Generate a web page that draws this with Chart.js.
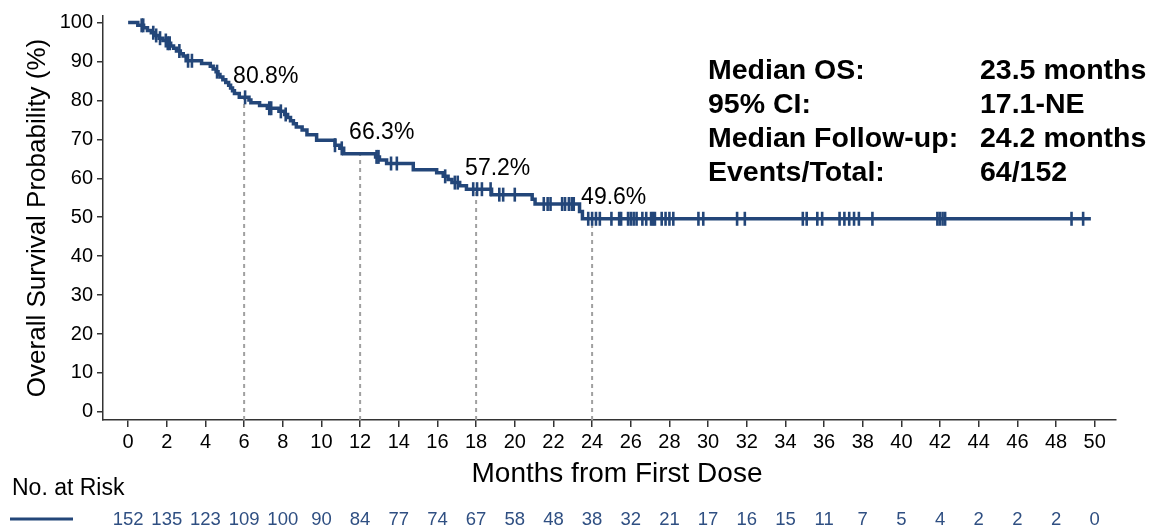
<!DOCTYPE html>
<html>
<head>
<meta charset="utf-8">
<title>Overall Survival</title>
<script src="https://cdn.jsdelivr.net/npm/chart.js@4/dist/chart.umd.min.js"></script>
<style>
  html, body { margin: 0; padding: 0; background: #fff; }
  #wrap { position: relative; width: 1153px; height: 529px; }
</style>
</head>
<body>
<div id="wrap"><canvas id="osChart" width="1153" height="529"></canvas></div>
<script>
// Kaplan-Meier steps: month of event and survival (%) after it
const stepMonths = [0, 0.5, 0.8, 1.0, 1.2, 1.4, 1.6, 1.8, 2.0, 2.2, 2.35, 2.5, 2.7, 2.85, 3.0,
  3.8, 4.25, 4.4, 4.55, 4.65, 4.75, 4.9, 5.05, 5.2, 5.3, 5.4, 5.5, 5.75,
  6.25, 6.35, 6.8, 7.2, 7.8, 8.1, 8.25, 8.4, 8.55, 8.7, 9.0, 9.25, 9.75, 10.7, 10.95, 11.15,
  12.8, 13.0, 13.37, 14.75, 15.96, 16.3, 16.55, 16.75, 17.15, 17.5,
  18.8, 20.9, 21.05, 23.35, 23.5, 49.8];
const stepSurvival = [100, 99.3, 98.7, 98.0, 97.4, 96.7, 96.0, 95.4, 94.7, 94.0, 93.4, 92.7, 92.0, 91.4, 90.2,
  89.5, 88.8, 88.1, 87.4, 86.7, 86.0, 85.3, 84.6, 83.9, 83.2, 82.5, 81.8, 80.8,
  80.1, 79.4, 78.7, 78.0, 77.2, 76.4, 75.6, 74.8, 74.0, 73.2, 72.4, 71.2, 69.8, 68.5, 67.7, 66.3,
  65.5, 64.7, 63.8, 62.2, 61.4, 60.5, 59.7, 58.9, 58.1, 57.2,
  55.8, 54.6, 53.4, 51.5, 49.6, 49.6];

// censored patients (months)
const censorMonths = [0.7, 0.78, 1.3, 1.45, 1.65, 1.95, 2.05, 2.15, 2.65, 3.1, 3.3, 4.6, 6.05,
  7.3, 7.4, 7.9, 8.15, 10.7, 11.05, 12.85, 12.95, 13.6, 13.9, 16.4, 16.9, 17.05, 17.85, 18.05,
  18.3, 18.75, 19.2, 19.4, 20.0, 21.5, 21.7, 21.85, 22.45, 22.6, 22.8, 22.95, 23.05,
  23.8, 24.0, 24.2, 24.4, 25.0, 25.4, 25.5, 25.86, 26.0, 26.15, 26.3, 26.6, 26.8, 27.05, 27.15,
  27.25, 27.6, 27.8, 28.0, 28.2, 29.5, 29.75, 31.5, 31.9, 34.9, 35.1, 35.65, 35.9, 36.8, 37.05,
  37.3, 37.55, 37.8, 38.5, 41.86, 41.98, 42.13, 42.26, 48.8, 49.4];

const landmarkMonths = [6, 12, 18, 24];
const landmarkSurvival = [80.8, 66.3, 57.2, 49.6];

const xTickValues = [0, 2, 4, 6, 8, 10, 12, 14, 16, 18, 20, 22, 24, 26, 28, 30, 32, 34, 36, 38, 40, 42, 44, 46, 48, 50];
const yTickValues = [0, 10, 20, 30, 40, 50, 60, 70, 80, 90, 100];

const riskMonths = xTickValues;
const riskCounts = [152, 135, 123, 109, 100, 90, 84, 77, 74, 67, 58, 48, 38, 32, 21, 17, 16, 15, 11, 7, 5, 4, 2, 2, 2, 0];

const statLabels = ['Median OS:', '95% CI:', 'Median Follow-up:', 'Events/Total:'];
const statValues = ['23.5 months', '17.1-NE', '24.2 months', '64/152'];

const xTitle = 'Months from First Dose';

const X_MIN = -1.3, X_MAX = 51.1;
const Y_MIN = -2.1, Y_MAX = 101.7;

const FONT = '"Liberation Sans", Arial, Helvetica, sans-serif';
const curveColor = '#234679';
const riskColor = '#2f4f82';
const axisColor = '#333333';

// survival at time t
function survivalAt(t) {
    let s = stepSurvival[0];
    for (let i = 0; i < stepMonths.length; i++) {
        if (stepMonths[i] <= t) s = stepSurvival[i];
    }
    return s;
}

const curvePoints = stepMonths.map((m, i) => ({ x: m, y: stepSurvival[i] }));
const censorPoints = censorMonths.map(m => ({ x: m, y: survivalAt(m) }));

const datasets = [
    {
        label: 'OS',
        data: curvePoints,
        stepped: true,
        borderColor: curveColor,
        borderWidth: 3.5,
        pointRadius: 0,
        fill: false
    },
    {
        label: 'Censored',
        data: censorPoints,
        showLine: false,
        pointStyle: 'line',
        rotation: 90,
        pointRadius: 7,
        borderColor: curveColor,
        borderWidth: 2.6
    }
];

// dashed drop lines at the landmark months
landmarkMonths.forEach((m, i) => {
    datasets.push({
        label: 'landmark ' + m,
        data: [{ x: m, y: Y_MIN }, { x: m, y: landmarkSurvival[i] }],
        borderColor: '#a0a0a0',
        borderWidth: 2,
        borderDash: [4, 4],
        pointRadius: 0,
        fill: false
    });
});

const textLayer = {
    id: 'textLayer',
    afterDatasetsDraw(chart) {
        const { ctx, scales: { x, y } } = chart;
        ctx.save();

        // landmark percentages
        ctx.fillStyle = '#000';
        ctx.font = '23px ' + FONT;
        ctx.textAlign = 'left';
        ctx.textBaseline = 'middle';
        landmarkMonths.forEach((m, i) => {
            ctx.fillText(landmarkSurvival[i].toFixed(1) + '%',
                x.getPixelForValue(m) - 11, y.getPixelForValue(landmarkSurvival[i]) - 21);
        });

        // x axis title, centred a little right of the plot middle
        ctx.font = '28px ' + FONT;
        ctx.textAlign = 'center';
        ctx.fillText(xTitle, 617, 474);

        // summary block
        ctx.textAlign = 'left';
        ctx.font = 'bold 28.5px ' + FONT;
        statLabels.forEach((label, i) => {
            ctx.fillText(label, 708, 71 + i * 34);
            ctx.fillText(statValues[i], 980, 71 + i * 34);
        });

        // number at risk
        ctx.font = '23px ' + FONT;
        ctx.fillText('No. at Risk', 12, 489);
        ctx.strokeStyle = curveColor;
        ctx.lineWidth = 3;
        ctx.beginPath();
        ctx.moveTo(10, 519);
        ctx.lineTo(73, 519);
        ctx.stroke();

        ctx.fillStyle = riskColor;
        ctx.font = '18.5px ' + FONT;
        ctx.textAlign = 'center';
        riskCounts.forEach((n, i) => {
            ctx.fillText(String(n), x.getPixelForValue(riskMonths[i]), 520);
        });

        ctx.restore();
    }
};

new Chart(document.getElementById('osChart'), {
    type: 'line',
    data: { datasets },
    options: {
        responsive: false,
        animation: false,
        layout: { padding: { left: 0, right: 37, top: 13, bottom: 39 } },
        plugins: {
            legend: { display: false },
            tooltip: { enabled: false }
        },
        scales: {
            x: {
                type: 'linear',
                position: 'bottom',
                min: X_MIN,
                max: X_MAX,
                afterBuildTicks: s => { s.ticks = xTickValues.map(v => ({ value: v })); },
                afterFit: s => { s.height = 70; },
                border: { display: true, color: axisColor, width: 1.5 },
                grid: { drawOnChartArea: false, drawTicks: true, tickLength: 7, color: axisColor, lineWidth: 1.5 },
                ticks: { color: '#000', font: { size: 20, family: FONT }, padding: 3, maxRotation: 0, autoSkip: false },
                title: { display: false }
            },
            y: {
                type: 'linear',
                min: Y_MIN,
                max: Y_MAX,
                afterBuildTicks: s => { s.ticks = yTickValues.map(v => ({ value: v })); },
                afterFit: s => { s.width = 103; },
                border: { display: true, color: axisColor, width: 1.5 },
                grid: { drawOnChartArea: false, drawTicks: true, tickLength: 6, color: axisColor, lineWidth: 1.5 },
                ticks: { color: '#000', font: { size: 20, family: FONT }, padding: 4, autoSkip: false },
                title: {
                    display: true,
                    text: 'Overall Survival Probability (%)',
                    color: '#000',
                    font: { size: 26, family: FONT, lineHeight: 1.2 },
                    padding: { top: 22, bottom: 0 }
                }
            }
        }
    },
    plugins: [textLayer]
});
</script>
</body>
</html>
